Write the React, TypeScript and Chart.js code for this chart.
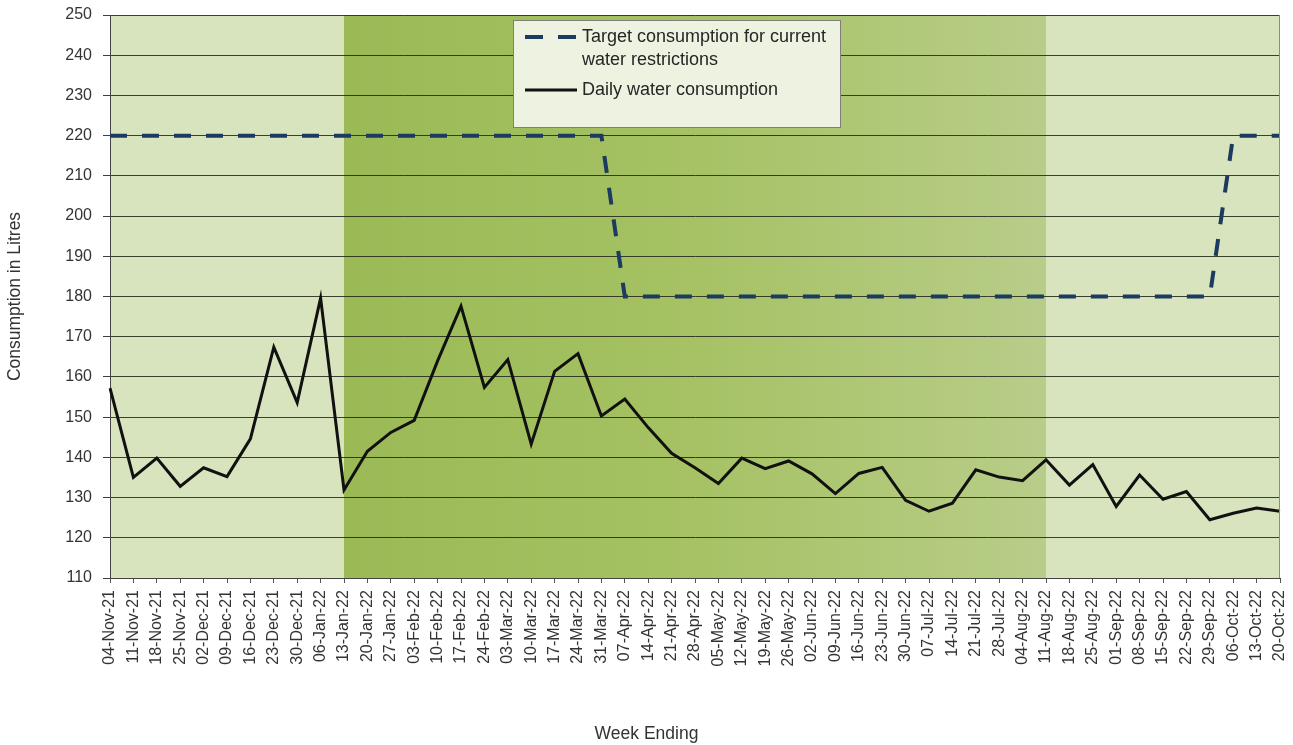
import React, { useEffect, useRef } from "react";
import { Chart, registerables } from "chart.js";

Chart.register(...registerables);

const weekLabels = [
  "04-Nov-21", "11-Nov-21", "18-Nov-21", "25-Nov-21", "02-Dec-21", "09-Dec-21", "16-Dec-21",
  "23-Dec-21", "30-Dec-21", "06-Jan-22", "13-Jan-22", "20-Jan-22", "27-Jan-22", "03-Feb-22",
  "10-Feb-22", "17-Feb-22", "24-Feb-22", "03-Mar-22", "10-Mar-22", "17-Mar-22", "24-Mar-22",
  "31-Mar-22", "07-Apr-22", "14-Apr-22", "21-Apr-22", "28-Apr-22", "05-May-22", "12-May-22",
  "19-May-22", "26-May-22", "02-Jun-22", "09-Jun-22", "16-Jun-22", "23-Jun-22", "30-Jun-22",
  "07-Jul-22", "14-Jul-22", "21-Jul-22", "28-Jul-22", "04-Aug-22", "11-Aug-22", "18-Aug-22",
  "25-Aug-22", "01-Sep-22", "08-Sep-22", "15-Sep-22", "22-Sep-22", "29-Sep-22", "06-Oct-22",
  "13-Oct-22", "20-Oct-22",
];

const dailyConsumption = [
  157.2, 135.0, 139.8, 132.8, 137.4, 135.2, 144.6, 167.4, 153.6, 179.6, 131.9, 141.5, 146.2,
  149.2, 164.0, 177.6, 157.4, 164.3, 143.3, 161.4, 165.8, 150.3, 154.5, 147.4, 141.0, 137.4,
  133.5, 139.8, 137.2, 139.1, 135.9, 131.0, 136.0, 137.5, 129.3, 126.6, 128.6, 136.9, 135.1,
  134.2, 139.4, 133.1, 138.2, 127.8, 135.6, 129.6, 131.5, 124.5, 126.1, 127.4, 126.6,
];

const targetConsumption = [
  220, 220, 220, 220, 220, 220, 220, 220, 220, 220, 220, 220, 220, 220, 220, 220, 220, 220,
  220, 220, 220, 220, 180, 180, 180, 180, 180, 180, 180, 180, 180, 180, 180, 180, 180, 180,
  180, 180, 180, 180, 180, 180, 180, 180, 180, 180, 180, 180, 220, 220, 220,
];

const yTickMin = 110;
const yTickMax = 250;
const yTickStep = 10;

const shadeStartLabel = "13-Jan-22";
const shadeEndLabel = "11-Aug-22";

const targetLegendLines = ["Target consumption for current", "water restrictions"];
const dailyLegendText = "Daily water consumption";
const yTitle = "Consumption in Litres";
const xTitle = "Week Ending";

const FONT = "'Liberation Sans', Arial, sans-serif";
const NAVY = "#1d3a60";

const backgroundPlugin = {
  id: "bgShade",
  beforeDraw(chart: any) {
    const { ctx, chartArea: a, scales } = chart;
    const x = scales.x;
    ctx.save();
    ctx.fillStyle = "#d8e4bd";
    ctx.fillRect(a.left, a.top, a.right - a.left, a.bottom - a.top);
    const x0 = x.getPixelForValue(weekLabels.indexOf(shadeStartLabel));
    const x1 = x.getPixelForValue(weekLabels.indexOf(shadeEndLabel));
    const g = ctx.createLinearGradient(x0, 0, x1, 0);
    g.addColorStop(0, "#9bba56");
    g.addColorStop(0.5, "#a6c264");
    g.addColorStop(1, "#b8cd89");
    ctx.fillStyle = g;
    ctx.fillRect(x0, a.top, x1 - x0, a.bottom - a.top);
    ctx.restore();
  },
  afterDatasetsDraw(chart: any) {
    const { ctx, chartArea: a } = chart;
    ctx.save();
    ctx.strokeStyle = "#8c8c80";
    ctx.lineWidth = 1;
    ctx.beginPath();
    ctx.moveTo(a.right - 0.5, a.top);
    ctx.lineTo(a.right - 0.5, a.bottom);
    ctx.stroke();

    // legend box
    const bx = 513, by = 20, bw = 327, bh = 107;
    ctx.fillStyle = "#edf2e1";
    ctx.fillRect(bx, by, bw, bh);
    ctx.strokeStyle = "#7f7f78";
    ctx.strokeRect(bx + 0.5, by + 0.5, bw, bh);

    ctx.font = `18px ${FONT}`;
    ctx.fillStyle = "#262626";
    ctx.textBaseline = "middle";
    ctx.textAlign = "left";

    // dashed sample
    ctx.strokeStyle = NAVY;
    ctx.lineWidth = 4;
    ctx.setLineDash([18, 15]);
    ctx.beginPath();
    ctx.moveTo(525, 37);
    ctx.lineTo(577, 37);
    ctx.stroke();
    ctx.setLineDash([]);
    ctx.fillText(targetLegendLines[0], 582, 37);
    ctx.fillText(targetLegendLines[1], 582, 60);

    // solid sample
    ctx.strokeStyle = "#111111";
    ctx.lineWidth = 3;
    ctx.beginPath();
    ctx.moveTo(525, 90);
    ctx.lineTo(577, 90);
    ctx.stroke();
    ctx.fillText(dailyLegendText, 582, 90);

    // x-axis title, centred on the whole canvas as in the reference
    ctx.font = `17.5px ${FONT}`;
    ctx.fillStyle = "#333333";
    ctx.textAlign = "center";
    ctx.fillText(xTitle, chart.width / 2, 734);
    ctx.restore();
  },
};

export default function App() {
  const canvasRef = useRef<HTMLCanvasElement | null>(null);

  useEffect(() => {
    if (!canvasRef.current) return;
    const chart = new Chart(canvasRef.current, {
      type: "line",
      data: {
        labels: weekLabels,
        datasets: [
          {
            label: "Daily water consumption",
            data: dailyConsumption,
            borderColor: "#111111",
            borderWidth: 3,
            pointRadius: 0,
            tension: 0,
            fill: false,
          },
          {
            label: "Target consumption for current water restrictions",
            data: targetConsumption,
            borderColor: NAVY,
            borderWidth: 4,
            borderDash: [17, 15],
            pointRadius: 0,
            tension: 0,
            fill: false,
          },
        ],
      },
      options: {
        animation: false,
        responsive: true,
        maintainAspectRatio: false,
        layout: { padding: { left: 0, right: 13, top: 15, bottom: 0 } },
        plugins: {
          legend: { display: false },
          tooltip: { enabled: false },
        },
        scales: {
          x: {
            type: "category",
            offset: false,
            grid: {
              drawOnChartArea: false,
              drawTicks: true,
              tickLength: 5,
              color: "#555555",
            },
            border: { display: true, color: "#444444", width: 1 },
            ticks: {
              autoSkip: false,
              maxRotation: 90,
              minRotation: 90,
              padding: 7,
              color: "#333333",
              font: { family: FONT, size: 16 },
            },
            title: { display: false },
            afterFit: (s: any) => {
              s.height = 745 - 578;
              s.paddingLeft = 0;
              s.paddingRight = 0;
            },
          },
          y: {
            min: yTickMin,
            max: yTickMax,
            grid: {
              color: "rgba(40,45,30,0.9)",
              lineWidth: 1,
              drawTicks: true,
              tickLength: 7,
            },
            border: { display: true, color: "#444444", width: 1 },
            ticks: {
              stepSize: yTickStep,
              padding: 11,
              color: "#333333",
              font: { family: FONT, size: 16 },
            },
            title: {
              display: true,
              text: yTitle,
              color: "#333333",
              font: { family: FONT, size: 17.5 },
              padding: { top: 5, bottom: 0 },
            },
            afterFit: (s: any) => {
              s.width = 110;
              s.paddingTop = 0;
              s.paddingBottom = 0;
            },
          },
        },
      },
      plugins: [backgroundPlugin],
    } as any);
    return () => chart.destroy();
  }, []);

  return (
    <div style={{ position: "fixed", left: 0, top: 0, width: 1293, height: 745, background: "#ffffff" }}>
      <canvas ref={canvasRef} />
    </div>
  );
}
